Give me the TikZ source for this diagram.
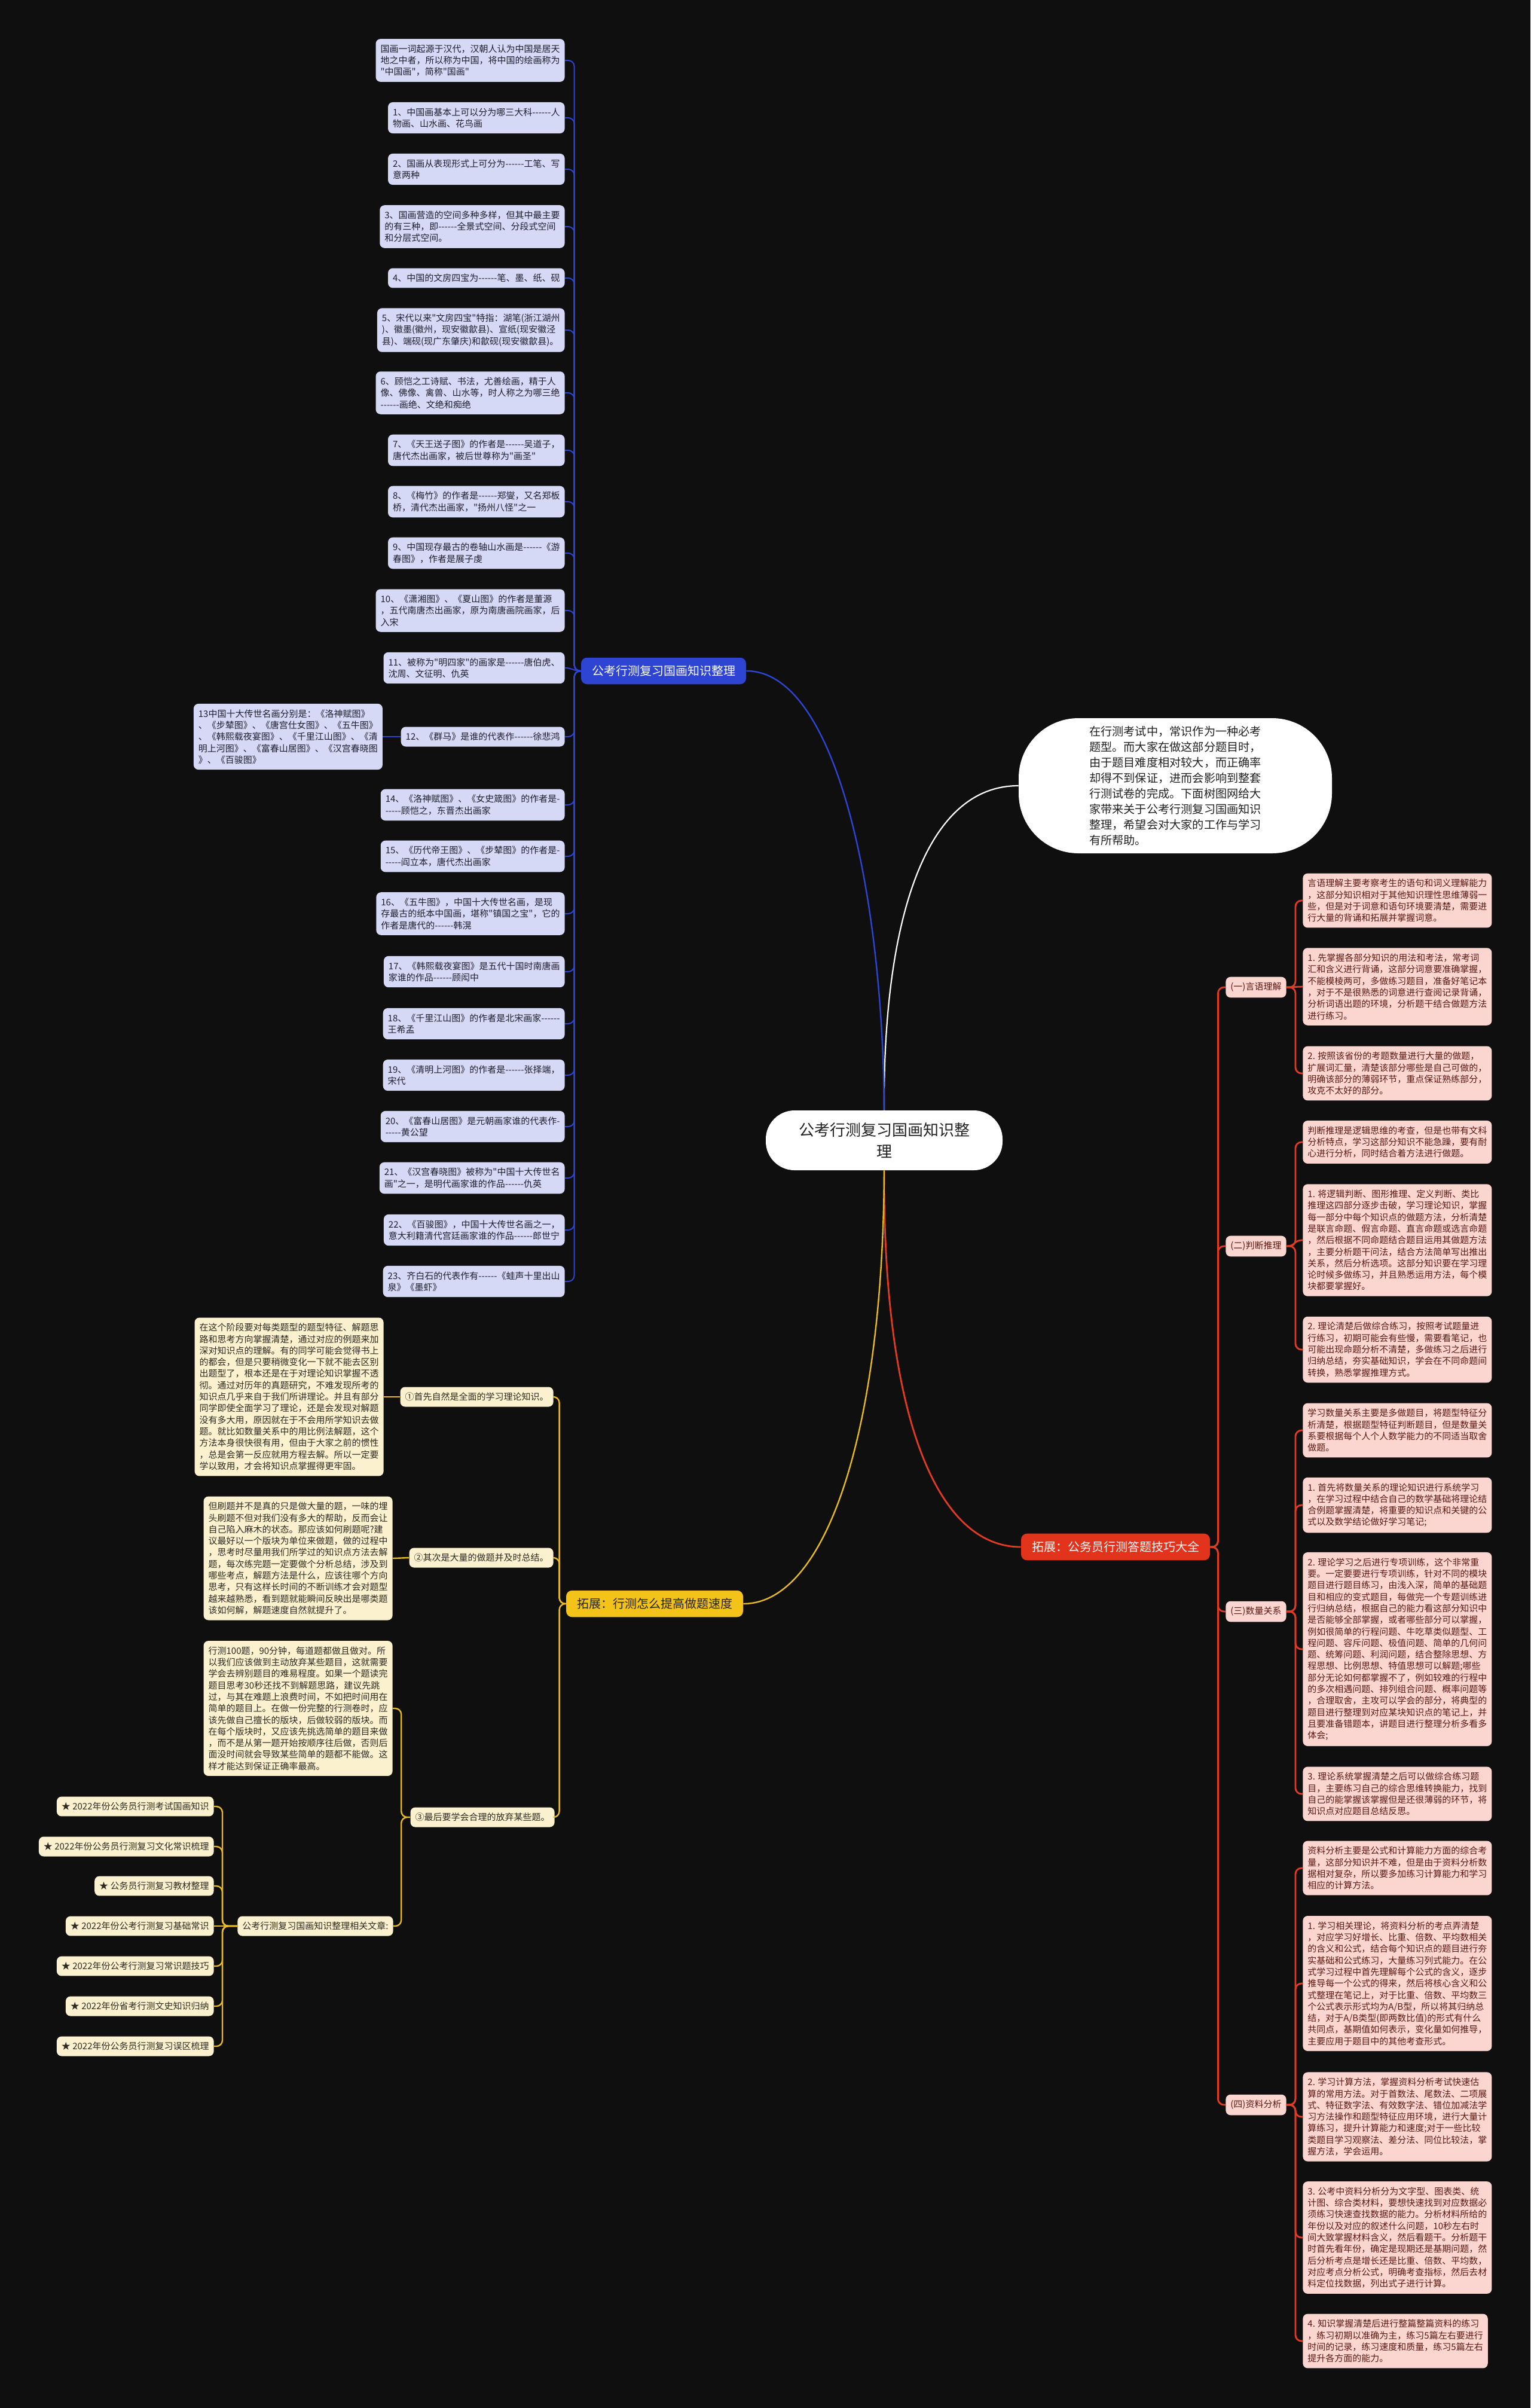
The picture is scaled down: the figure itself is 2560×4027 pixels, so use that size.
\documentclass[tikz,border=0pt]{standalone}
\usepackage{fontspec}
\newfontfamily\cn{Noto Sans CJK SC}
\usetikzlibrary{calc}
\definecolor{bgc}{HTML}{0F0F0F}
\definecolor{bluec}{HTML}{2D45D2}
\definecolor{bleafc}{HTML}{D6D9F6}
\definecolor{btextc}{HTML}{1E1E2E}
\definecolor{redc}{HTML}{E2341D}
\definecolor{rlinec}{HTML}{E23B24}
\definecolor{rleafc}{HTML}{FBD6D1}
\definecolor{rtextc}{HTML}{5A1A12}
\definecolor{yelc}{HTML}{F3C319}
\definecolor{ylinec}{HTML}{E8BA22}
\definecolor{yleafc}{HTML}{FBF1CE}
\definecolor{ytextc}{HTML}{2E2A22}
\definecolor{darkc}{HTML}{222222}
\begin{document}
\begin{tikzpicture}[x=0.5pt,y=-0.5pt,
  leaf/.style={rounded corners=4pt, inner xsep=4pt, inner ysep=4.75pt, align=left, font=\cn\fontsize{7.5}{9.65}\selectfont},
  bleaf/.style={leaf, fill=bleafc, text=btextc},
  rleaf/.style={leaf, fill=rleafc, text=rtextc},
  yleaf/.style={leaf, fill=yleafc, text=ytextc},
  topicbox/.style={rounded corners=5pt, inner xsep=9pt, inner ysep=6.5pt, font=\cn\fontsize{10}{12}\selectfont},
  bline/.style={draw=bluec, line width=1pt},
  rline/.style={draw=rlinec, line width=1.4pt},
  yline/.style={draw=ylinec, line width=1.2pt},
  wline/.style={draw=white, line width=1.1pt},
]
\fill[bgc] (0,0) rectangle (2560,4027);
\useasboundingbox (0,0) rectangle (2560,4027);

% ---------- centre and intro ----------
\node[fill=white, text=darkc, rounded corners=24pt, minimum width=198pt, minimum height=50pt, align=center, font=\cn\fontsize{13}{18}\selectfont] (c) at (1479,1907) {公考行测复习国画知识整\\理};

\node[fill=white, text=darkc, rounded corners=50pt, minimum width=262pt, minimum height=113pt, align=left, inner sep=6pt, font=\cn\fontsize{9.6}{13}\selectfont] (intro) at (1966,1314) {在行测考试中，常识作为一种必考\\题型。而大家在做这部分题目时，\\由于题目难度相对较大，而正确率\\却得不到保证，进而会影响到整套\\行测试卷的完成。下面树图网给大\\家带来关于公考行测复习国画知识\\整理，希望会对大家的工作与学习\\有所帮助。};

% ---------- blue branch ----------
\node[topicbox, fill=bluec, text=white] (bt) at (1110,1122) {公考行测复习国画知识整理};

\node[bleaf, anchor=east] (b0) at (945,101) {国画一词起源于汉代，汉朝人认为中国是居天\\地之中者，所以称为中国，将中国的绘画称为\\"中国画"，简称"国画"};
\node[bleaf, anchor=east] (b1) at (945,197) {1、中国画基本上可以分为哪三大科------人\\物画、山水画、花鸟画};
\node[bleaf, anchor=east] (b2) at (945,283) {2、国画从表现形式上可分为------工笔、写\\意两种};
\node[bleaf, anchor=east] (b3) at (945,379) {3、国画营造的空间多种多样，但其中最主要\\的有三种，即------全景式空间、分段式空间\\和分层式空间。};
\node[bleaf, anchor=east] (b4) at (945,465) {4、中国的文房四宝为------笔、墨、纸、砚};
\node[bleaf, anchor=east] (b5) at (945,552) {5、宋代以来"文房四宝"特指：湖笔(浙江湖州\\)、徽墨(徽州，现安徽歙县)、宣纸(现安徽泾\\县)、端砚(现广东肇庆)和歙砚(现安徽歙县)。};
\node[bleaf, anchor=east] (b6) at (945,657) {6、顾恺之工诗赋、书法，尤善绘画，精于人\\像、佛像、禽兽、山水等，时人称之为哪三绝\\------画绝、文绝和痴绝};
\node[bleaf, anchor=east] (b7) at (945,753) {7、《天王送子图》的作者是------吴道子，\\唐代杰出画家，被后世尊称为"画圣"};
\node[bleaf, anchor=east] (b8) at (945,839) {8、《梅竹》的作者是------郑燮，又名郑板\\桥，清代杰出画家，"扬州八怪"之一};
\node[bleaf, anchor=east] (b9) at (945,925) {9、中国现存最古的卷轴山水画是------《游\\春图》，作者是展子虔};
\node[bleaf, anchor=east] (b10) at (945,1021) {10、《潇湘图》、《夏山图》的作者是董源\\，五代南唐杰出画家，原为南唐画院画家，后\\入宋};
\node[bleaf, anchor=east] (b11) at (945,1117) {11、被称为"明四家"的画家是------唐伯虎、\\沈周、文征明、仇英};
\node[bleaf, anchor=east] (b12) at (945,1232) {12、《群马》是谁的代表作------徐悲鸿};
\node[bleaf, anchor=east] (b13) at ($(b12.west)+(-30,0)$) {13中国十大传世名画分别是：《洛神赋图》\\、《步辇图》、《唐宫仕女图》、《五牛图》\\、《韩熙载夜宴图》、《千里江山图》、《清\\明上河图》、《富春山居图》、《汉宫春晓图\\》、《百骏图》};
\node[bleaf, anchor=east] (b14) at (945,1346) {14、《洛神赋图》、《女史箴图》的作者是-\\-----顾恺之，东晋杰出画家};
\node[bleaf, anchor=east] (b15) at (945,1432) {15、《历代帝王图》、《步辇图》的作者是-\\-----阎立本，唐代杰出画家};
\node[bleaf, anchor=east] (b16) at (945,1528) {16、《五牛图》，中国十大传世名画，是现\\存最古的纸本中国画，堪称"镇国之宝"，它的\\作者是唐代的------韩滉};
\node[bleaf, anchor=east] (b17) at (945,1625) {17、《韩熙载夜宴图》是五代十国时南唐画\\家谁的作品------顾闳中};
\node[bleaf, anchor=east] (b18) at (945,1712) {18、《千里江山图》的作者是北宋画家------\\王希孟};
\node[bleaf, anchor=east] (b19) at (945,1798) {19、《清明上河图》的作者是------张择端，\\宋代};
\node[bleaf, anchor=east] (b20) at (945,1884) {20、《富春山居图》是元朝画家谁的代表作-\\-----黄公望};
\node[bleaf, anchor=east] (b21) at (945,1970) {21、《汉宫春晓图》被称为"中国十大传世名\\画"之一，是明代画家谁的作品------仇英};
\node[bleaf, anchor=east] (b22) at (945,2057) {22、《百骏图》，中国十大传世名画之一，\\意大利籍清代宫廷画家谁的作品------郎世宁};
\node[bleaf, anchor=east] (b23) at (945,2143) {23、齐白石的代表作有------《蛙声十里出山\\泉》《墨虾》};

\foreach \nn in {b0,b1,b2,b3,b4,b5,b6,b7,b8,b9,b10,b12,b14,b15,b16,b17,b18,b19,b20,b21,b22,b23}
  \draw[bline, rounded corners=5pt] (bt.west) -- ++(-11,0) |- (\nn.east);
\draw[bline] (bt.west) .. controls +(-12,0) and +(12,0) .. (b11.east);
\draw[bline] (b12.west) -- (b13.east);

% ---------- red branch ----------
\node[topicbox, fill=redc, text=white] (rt) at (1866,2587) {拓展：公务员行测答题技巧大全};

\node[rleaf, anchor=west] (s1) at (2050,1651) {(一)言语理解};
\node[rleaf, anchor=west] (s2) at (2050,2084) {(二)判断推理};
\node[rleaf, anchor=west] (s3) at (2050,2695) {(三)数量关系};
\node[rleaf, anchor=west] (s4) at (2050,3520) {(四)资料分析};

\node[rleaf, anchor=west] (l1a) at (2179,1506) {言语理解主要考察考生的语句和词义理解能力\\，这部分知识相对于其他知识理性思维薄弱一\\些，但是对于词意和语句环境要清楚，需要进\\行大量的背诵和拓展并掌握词意。};
\node[rleaf, anchor=west] (l1b) at (2179,1650) {1. 先掌握各部分知识的用法和考法，常考词\\汇和含义进行背诵，这部分词意要准确掌握，\\不能模棱两可，多做练习题目，准备好笔记本\\，对于不是很熟悉的词意进行查阅记录背诵，\\分析词语出题的环境，分析题干结合做题方法\\进行练习。};
\node[rleaf, anchor=west] (l1c) at (2179,1795) {2. 按照该省份的考题数量进行大量的做题，\\扩展词汇量，清楚该部分哪些是自己可做的，\\明确该部分的薄弱环节，重点保证熟练部分，\\攻克不太好的部分。};
\node[rleaf, anchor=west] (l2a) at (2179,1910) {判断推理是逻辑思维的考查，但是也带有文科\\分析特点，学习这部分知识不能急躁，要有耐\\心进行分析，同时结合着方法进行做题。};
\node[rleaf, anchor=west] (l2b) at (2179,2074) {1. 将逻辑判断、图形推理、定义判断、类比\\推理这四部分逐步击破，学习理论知识，掌握\\每一部分中每个知识点的做题方法，分析清楚\\是联言命题、假言命题、直言命题或选言命题\\，然后根据不同命题结合题目运用其做题方法\\，主要分析题干问法，结合方法简单写出推出\\关系，然后分析选项。这部分知识要在学习理\\论时候多做练习，并且熟悉运用方法，每个模\\块都要掌握好。};
\node[rleaf, anchor=west] (l2c) at (2179,2257) {2. 理论清楚后做综合练习，按照考试题量进\\行练习，初期可能会有些慢，需要看笔记，也\\可能出现命题分析不清楚，多做练习之后进行\\归纳总结，夯实基础知识，学会在不同命题间\\转换，熟悉掌握推理方式。};
\node[rleaf, anchor=west] (l3a) at (2179,2392) {学习数量关系主要是多做题目，将题型特征分\\析清楚，根据题型特征判断题目，但是数量关\\系要根据每个人个人数学能力的不同适当取舍\\做题。};
\node[rleaf, anchor=west] (l3b) at (2179,2517) {1. 首先将数量关系的理论知识进行系统学习\\，在学习过程中结合自己的数学基础将理论结\\合例题掌握清楚，将重要的知识点和关键的公\\式以及数学结论做好学习笔记;};
\node[rleaf, anchor=west] (l3c) at (2179,2758) {2. 理论学习之后进行专项训练，这个非常重\\要。一定要要进行专项训练，针对不同的模块\\题目进行题目练习，由浅入深，简单的基础题\\目和相应的变式题目，每做完一个专题训练进\\行归纳总结，根据自己的能力看这部分知识中\\是否能够全部掌握，或者哪些部分可以掌握，\\例如很简单的行程问题、牛吃草类似题型、工\\程问题、容斥问题、极值问题、简单的几何问\\题、统筹问题、利润问题，结合整除思想、方\\程思想、比例思想、特值思想可以解题;哪些\\部分无论如何都掌握不了，例如较难的行程中\\的多次相遇问题、排列组合问题、概率问题等\\，合理取舍，主攻可以学会的部分，将典型的\\题目进行整理到对应某块知识点的笔记上，并\\且要准备错题本，讲题目进行整理分析多看多\\体会;};
\node[rleaf, anchor=west] (l3d) at (2179,3000) {3. 理论系统掌握清楚之后可以做综合练习题\\目，主要练习自己的综合思维转换能力，找到\\自己的能掌握该掌握但是还很薄弱的环节，将\\知识点对应题目总结反思。};
\node[rleaf, anchor=west] (l4a) at (2179,3124) {资料分析主要是公式和计算能力方面的综合考\\量，这部分知识并不难，但是由于资料分析数\\据相对复杂，所以要多加练习计算能力和学习\\相应的计算方法。};
\node[rleaf, anchor=west] (l4b) at (2179,3317) {1. 学习相关理论，将资料分析的考点弄清楚\\，对应学习好增长、比重、倍数、平均数相关\\的含义和公式，结合每个知识点的题目进行夯\\实基础和公式练习，大量练习列式能力。在公\\式学习过程中首先理解每个公式的含义，逐步\\推导每一个公式的得来，然后将核心含义和公\\式整理在笔记上，对于比重、倍数、平均数三\\个公式表示形式均为A/B型，所以将其归纳总\\结，对于A/B类型(即两数比值)的形式有什么\\共同点，基期值如何表示，变化量如何推导，\\主要应用于题目中的其他考查形式。};
\node[rleaf, anchor=west] (l4c) at (2179,3540) {2. 学习计算方法，掌握资料分析考试快速估\\算的常用方法。对于首数法、尾数法、二项展\\式、特征数字法、有效数字法、错位加减法学\\习方法操作和题型特征应用环境，进行大量计\\算练习，提升计算能力和速度;对于一些比较\\类题目学习观察法、差分法、同位比较法，掌\\握方法，学会运用。};
\node[rleaf, anchor=west] (l4d) at (2179,3742) {3. 公考中资料分析分为文字型、图表类、统\\计图、综合类材料，要想快速找到对应数据必\\须练习快速查找数据的能力。分析材料所给的\\年份以及对应的叙述什么问题，10秒左右时\\间大致掌握材料含义，然后看题干。分析题干\\时首先看年份，确定是现期还是基期问题，然\\后分析考点是增长还是比重、倍数、平均数，\\对应考点分析公式，明确考查指标，然后去材\\料定位找数据，列出式子进行计算。};
\node[rleaf, anchor=west] (l4e) at (2179,3915) {4. 知识掌握清楚后进行整篇整篇资料的练习\\，练习初期以准确为主，练习5篇左右要进行\\时间的记录，练习速度和质量，练习5篇左右\\提升各方面的能力。};

\foreach \nn in {s1,s2,s3,s4}
  \draw[rline, rounded corners=5pt] (rt.east) -- ++(13,0) |- (\nn.west);
\draw[rline, rounded corners=5pt] (s1.east) -- ++(15,0) |- (l1a.west);
\draw[rline] (s1.east) -- (l1b.west);
\draw[rline, rounded corners=5pt] (s1.east) -- ++(15,0) |- (l1c.west);
\draw[rline, rounded corners=5pt] (s2.east) -- ++(15,0) |- (l2a.west);
\draw[rline] (s2.east) .. controls +(16,0) and +(-16,0) .. (l2b.west);
\draw[rline, rounded corners=5pt] (s2.east) -- ++(15,0) |- (l2c.west);
\foreach \nn in {l3a,l3b,l3c,l3d}
  \draw[rline, rounded corners=5pt] (s3.east) -- ++(15,0) |- (\nn.west);
\foreach \nn in {l4a,l4b,l4c,l4d,l4e}
  \draw[rline, rounded corners=5pt] (s4.east) -- ++(15,0) |- (\nn.west);

% ---------- yellow branch ----------
\node[topicbox, fill=yelc, text=darkc] (yt) at (1095,2682) {拓展：行测怎么提高做题速度};

\node[yleaf, anchor=east] (y1) at (926,2336) {①首先自然是全面的学习理论知识。};
\node[yleaf, anchor=east] (y2) at (926,2605) {②其次是大量的做题并及时总结。};
\node[yleaf, anchor=east] (y3) at (928,3039) {③最后要学会合理的放弃某些题。};

\node[yleaf, anchor=east] (p1) at (642,2336) {在这个阶段要对每类题型的题型特征、解题思\\路和思考方向掌握清楚，通过对应的例题来加\\深对知识点的理解。有的同学可能会觉得书上\\的都会，但是只要稍微变化一下就不能去区别\\出题型了，根本还是在于对理论知识掌握不透\\彻。通过对历年的真题研究，不难发现所考的\\知识点几乎来自于我们所讲理论。并且有部分\\同学即使全面学习了理论，还是会发现对解题\\没有多大用，原因就在于不会用所学知识去做\\题。就比如数量关系中的用比例法解题，这个\\方法本身很快很有用，但由于大家之前的惯性\\，总是会第一反应就用方程去解。所以一定要\\学以致用，才会将知识点掌握得更牢固。};
\node[yleaf, anchor=east] (p2) at (657,2606) {但刷题并不是真的只是做大量的题，一味的埋\\头刷题不但对我们没有多大的帮助，反而会让\\自己陷入麻木的状态。那应该如何刷题呢?建\\议最好以一个版块为单位来做题，做的过程中\\，思考时尽量用我们所学过的知识点方法去解\\题，每次练完题一定要做个分析总结，涉及到\\哪些考点，解题方法是什么，应该往哪个方向\\思考，只有这样长时间的不断训练才会对题型\\越来越熟悉，看到题就能瞬间反映出是哪类题\\该如何解，解题速度自然就提升了。};
\node[yleaf, anchor=east] (p3) at (657,2857) {行测100题，90分钟，每道题都做且做对。所\\以我们应该做到主动放弃某些题目，这就需要\\学会去辨别题目的难易程度。如果一个题读完\\题目思考30秒还找不到解题思路，建议先跳\\过，与其在难题上浪费时间，不如把时间用在\\简单的题目上。在做一份完整的行测卷时，应\\该先做自己擅长的版块，后做较弱的版块。而\\在每个版块时，又应该先挑选简单的题目来做\\，而不是从第一题开始按顺序往后做，否则后\\面没时间就会导致某些简单的题都不能做。这\\样才能达到保证正确率最高。};

\node[yleaf, anchor=east] (hub) at (658,3221) {公考行测复习国画知识整理相关文章:};
\node[yleaf, anchor=east] (i1) at (358,3021) {★ 2022年份公务员行测考试国画知识};
\node[yleaf, anchor=east] (i2) at (358,3088) {★ 2022年份公务员行测复习文化常识梳理};
\node[yleaf, anchor=east] (i3) at (358,3154) {★ 公务员行测复习教材整理};
\node[yleaf, anchor=east] (i4) at (358,3221) {★ 2022年份公考行测复习基础常识};
\node[yleaf, anchor=east] (i5) at (358,3288) {★ 2022年份公考行测复习常识题技巧};
\node[yleaf, anchor=east] (i6) at (358,3355) {★ 2022年份省考行测文史知识归纳};
\node[yleaf, anchor=east] (i7) at (358,3422) {★ 2022年份公务员行测复习误区梳理};

\foreach \nn in {y1,y2,y3}
  \draw[yline, rounded corners=5pt] (yt.west) -- ++(-11,0) |- (\nn.east);
\draw[yline] (y1.west) -- (p1.east);
\draw[yline] (y2.west) -- (p2.east);
\draw[yline, rounded corners=5pt] (y3.west) -- ++(-15,0) |- (p3.east);
\draw[yline, rounded corners=5pt] (y3.west) -- ++(-15,0) |- (hub.east);
\foreach \nn in {i1,i2,i3,i5,i6,i7}
  \draw[yline, rounded corners=5pt] (hub.west) -- ++(-25,0) |- (\nn.east);
\draw[yline] (hub.west) -- (i4.east);

% ---------- main connectors ----------
\draw[wline] (c.north) .. controls (1477,1560) and (1540,1314) .. (intro.west);
\draw[bline, line width=1.2pt] (c.north) .. controls (1477,1500) and (1400,1122) .. (bt.east);
\draw[rline] (c.south) .. controls (1477,2350) and (1560,2587) .. (rt.west);
\draw[yline] (c.south) .. controls (1477,2400) and (1380,2682) .. (yt.east);
\end{tikzpicture}
\end{document}
